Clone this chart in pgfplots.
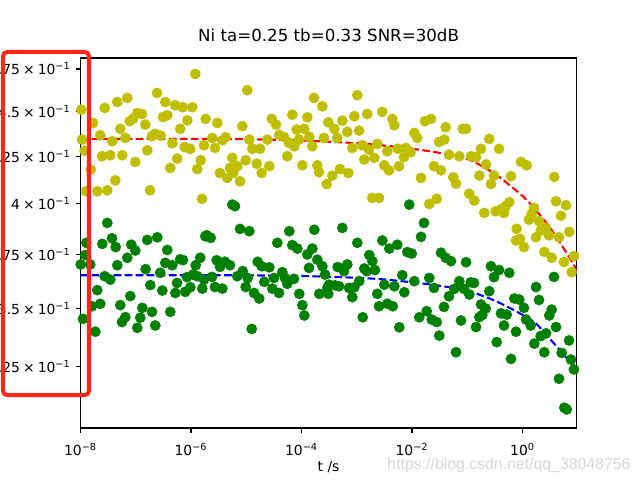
\documentclass[border=0pt]{standalone}
\usepackage{fontspec}
\setmainfont{DejaVu Sans}
\newfontfamily\wmfont{Liberation Sans}
\usepackage{pgfplots}
\pgfplotsset{compat=1.18}
\usepackage{pgfplotstable}
\definecolor{mplY}{rgb}{0.75,0.75,0}
\definecolor{mplG}{rgb}{0,0.5,0}
\definecolor{markup}{RGB}{255,38,28}
\newcommand{\sci}[2]{#1\hspace{0.22em}×\hspace{0.22em}10\textsuperscript{−#2}}
\newcommand{\pten}[1]{10\textsuperscript{#1}}

% x column: log10(t / s), y column: signal
\pgfplotstableread{
lt v
-7.986 0.4510
-7.774 0.4434
-7.562 0.4520
-7.334 0.4554
-7.153 0.4578
-6.615 0.4607
-6.465 0.4554
-6.284 0.4535
-6.150 0.4524
-5.976 0.4524
-5.922 0.4720
-5.734 0.4457
-7.973 0.4341
-7.924 0.4280
-7.815 0.4178
-7.900 0.4064
-7.696 0.4064
-7.515 0.4069
-7.370 0.4121
-7.642 0.4365
-7.424 0.4332
-7.611 0.4250
-7.461 0.4255
-7.280 0.4401
-7.243 0.4255
-7.189 0.4350
-7.109 0.4444
-7.050 0.4458
-6.972 0.4491
-6.887 0.4485
-6.827 0.4425
-7.008 0.4219
-6.791 0.4282
-6.742 0.4069
-6.706 0.4360
-6.646 0.4373
-6.548 0.4363
-6.507 0.4468
-6.429 0.4478
-6.338 0.4321
-6.375 0.4187
-6.248 0.4237
-6.194 0.4401
-6.114 0.4300
-6.013 0.4290
-6.067 0.4449
-5.886 0.4181
-5.824 0.4228
-5.765 0.4310
-5.801 0.4025
-4.981 0.4623
-5.524 0.4434
-5.071 0.4416
-3.774 0.4578
-3.623 0.4529
-4.166 0.4481
-3.895 0.4466
-4.539 0.4457
-4.461 0.4425
-4.087 0.4397
-3.949 0.4401
-3.515 0.4438
-4.402 0.4367
-4.317 0.4355
-5.614 0.4350
-5.433 0.4337
-5.372 0.4354
-4.945 0.4341
-4.619 0.4341
-4.226 0.4323
-4.045 0.4341
-3.859 0.4356
-3.593 0.4350
-5.566 0.4295
-4.890 0.4291
-4.751 0.4291
-4.130 0.4304
-3.804 0.4304
-4.257 0.4250
-5.252 0.4241
-5.010 0.4228
-4.811 0.4210
-4.583 0.4196
-5.162 0.4196
-5.294 0.4187
-3.985 0.4201
-3.714 0.4201
-5.475 0.4160
-5.234 0.4160
-4.720 0.4160
-3.683 0.4164
-5.343 0.4134
-5.113 0.4116
-3.544 0.4102
-2.990 0.4594
-3.406 0.4401
-3.261 0.4447
-3.044 0.4472
-2.809 0.4485
-2.537 0.4497
-2.356 0.4457
-2.320 0.4421
-2.959 0.4391
-3.171 0.4384
-3.352 0.4350
-3.080 0.4295
-2.899 0.4310
-2.778 0.4286
-2.628 0.4317
-2.447 0.4277
-2.682 0.4241
-2.863 0.4232
-2.259 0.4291
-2.114 0.4295
-2.023 0.4273
-2.145 0.4245
-2.235 0.4196
-2.501 0.4201
-2.416 0.4174
-1.958 0.4378
-1.904 0.4350
-1.765 0.4444
-1.656 0.4457
-1.390 0.4410
-1.511 0.4328
-1.415 0.4341
-1.330 0.4258
-1.602 0.4196
-1.475 0.4174
-1.837 0.4134
-1.252 0.4137
-3.303 0.4181
-3.153 0.4160
-3.442 0.4146
-2.718 0.4030
-2.597 0.4030
-1.687 0.3999
-1.553 0.4025
-1.082 0.4401
-1.022 0.4401
-0.601 0.4345
-0.751 0.4290
-0.425 0.4290
-1.144 0.4250
-0.932 0.4250
-0.841 0.4245
-0.660 0.4205
-0.027 0.4219
0.076 0.4201
-1.203 0.4104
-0.782 0.4146
-0.516 0.4146
-0.208 0.4143
-0.570 0.4102
0.576 0.4139
-0.963 0.4051
-0.872 0.4016
-0.691 0.3954
-0.239 0.4008
-0.304 0.3988
-0.394 0.3971
-0.485 0.3962
-0.335 0.3954
0.607 0.4013
0.788 0.3993
0.208 0.3979
0.167 0.3950
0.118 0.3920
0.697 0.3940
0.299 0.3913
0.426 0.3879
0.330 0.3866
-0.105 0.3875
-0.117 0.3817
-0.045 0.3825
0.027 0.3785
0.245 0.3833
0.480 0.3843
0.661 0.3833
0.847 0.3859
0.395 0.3762
0.529 0.3734
0.751 0.3714
0.891 0.3666
0.932 0.3742
}\yellowdata

\pgfplotstableread{
lt v
-7.515 0.3904
-7.895 0.3806
-7.913 0.3747
-7.996 0.3702
-7.823 0.3702
-7.605 0.3801
-7.430 0.3828
-7.363 0.3785
-7.081 0.3797
-7.008 0.3769
-7.153 0.3734
-7.334 0.3699
-6.791 0.3820
-6.610 0.3833
-6.429 0.3771
-6.465 0.3710
-6.338 0.3699
-6.194 0.3727
-6.145 0.3723
-6.820 0.3680
-6.556 0.3663
-5.832 0.3734
-5.915 0.3699
-5.964 0.3655
-6.072 0.3643
-5.886 0.3647
-5.741 0.3838
-7.562 0.3647
-7.461 0.3631
-7.696 0.3583
-7.792 0.3510
-7.642 0.3521
-7.955 0.3454
-7.732 0.3398
-7.280 0.3515
-7.099 0.3556
-7.189 0.3462
-7.249 0.3440
-6.881 0.3503
-6.918 0.3459
-6.972 0.3415
-6.706 0.3485
-6.646 0.3425
-6.737 0.3606
-6.519 0.3581
-6.375 0.3485
-6.253 0.3616
-6.284 0.3570
-6.103 0.3575
-6.013 0.3596
-5.795 0.3590
-5.252 0.3996
-5.204 0.3988
-5.113 0.3874
-4.945 0.3863
-5.716 0.3843
-5.643 0.3830
-4.221 0.3863
-3.768 0.3870
-4.438 0.3806
-4.166 0.3795
-4.076 0.3778
-3.804 0.3778
-3.895 0.3750
-5.535 0.3722
-5.385 0.3715
-5.294 0.3699
-5.475 0.3691
-4.793 0.3715
-4.720 0.3694
-4.583 0.3689
-3.714 0.3725
-3.623 0.3694
-3.864 0.3686
-5.064 0.3671
-5.162 0.3647
-4.974 0.3639
-5.620 0.3644
-4.347 0.3666
-4.299 0.3639
-4.136 0.3635
-4.498 0.3639
-4.673 0.3621
-3.575 0.3655
-5.765 0.3631
-5.566 0.3597
-5.433 0.3590
-5.010 0.3597
-4.528 0.3590
-4.407 0.3570
-4.257 0.3612
-4.040 0.3566
-3.678 0.3566
-3.515 0.3566
-4.860 0.3570
-4.764 0.3545
-3.985 0.3515
-3.949 0.3469
-4.901 0.3410
-3.533 0.3593
-2.049 0.3996
-3.261 0.3879
-1.783 0.3904
-1.837 0.3835
-2.990 0.3806
-2.537 0.3817
-2.411 0.3778
-2.266 0.3797
-2.085 0.3761
-2.005 0.3754
-1.475 0.3758
-1.390 0.3734
-1.294 0.3718
-2.773 0.3747
-2.718 0.3718
-3.171 0.3702
-3.345 0.3690
-3.231 0.3671
-2.863 0.3683
-2.670 0.3676
-2.820 0.3671
-3.394 0.3605
-3.502 0.3608
-3.321 0.3601
-3.140 0.3593
-3.044 0.3596
-2.954 0.3624
-3.080 0.3551
-2.176 0.3652
-1.958 0.3624
-1.687 0.3639
-1.602 0.3593
-2.501 0.3608
-2.320 0.3601
-2.628 0.3566
-2.139 0.3573
-2.597 0.3510
-2.447 0.3521
-2.349 0.3510
-2.892 0.3461
-2.230 0.3417
-1.868 0.3461
-1.734 0.3488
-1.643 0.3451
-1.553 0.3440
-1.421 0.3507
-1.506 0.3381
-1.330 0.3555
-1.234 0.3589
-1.203 0.3310
-1.022 0.3713
-0.570 0.3694
-0.425 0.3676
-0.516 0.3643
-0.239 0.3663
0.570 0.3644
0.245 0.3597
-1.144 0.3624
-0.937 0.3619
-0.878 0.3616
-1.059 0.3589
-0.963 0.3563
-0.601 0.3578
-0.148 0.3545
-0.058 0.3540
0.027 0.3503
-0.751 0.3518
-0.666 0.3500
-0.727 0.3471
-0.782 0.3462
-0.389 0.3478
-0.286 0.3473
0.299 0.3538
0.529 0.3495
0.485 0.3469
0.064 0.3451
0.149 0.3425
0.607 0.3418
-1.113 0.3447
-0.841 0.3418
-0.335 0.3425
-0.117 0.3398
0.330 0.3379
0.426 0.3391
0.214 0.3347
-0.467 0.3353
0.842 0.3360
0.395 0.3310
0.710 0.3307
0.878 0.3279
0.932 0.3238
-0.208 0.3282
0.661 0.3200
0.757 0.3084
0.800 0.3077
}\greendata

\pgfplotstableread{
lt v
-8 0.4345
-6 0.4345
-5 0.4343
-4 0.4336
-3 0.4321
-2.5 0.4308
-2 0.4291
-1.5 0.4268
-1 0.4235
-0.5 0.4155
0 0.4040
0.25 0.3965
0.5 0.3879
0.75 0.3777
0.981 0.3678
}\redfit

\pgfplotstableread{
lt v
-8 0.3652
-6 0.3652
-5 0.3651
-4 0.3648
-3 0.3640
-2.5 0.3632
-2 0.3619
-1.5 0.3603
-1 0.3580
-0.5 0.3535
0 0.3472
0.25 0.3432
0.5 0.3366
0.75 0.3300
0.981 0.3236
}\bluefit

\begin{document}
\begin{tikzpicture}
\useasboundingbox (-57.96pt,-37.44pt) rectangle (402.84pt,308.16pt);
\begin{axis}[
  at={(0,0)}, anchor=south west,
  scale only axis, width=357.26pt, height=266.4pt,
  xmin=-8, xmax=0.981,
  ymode=log, ymin=0.3005, ymax=0.4817,
  xtick={-8,-6,-4,-2,0},
  xticklabels={\pten{−8},\pten{−6},\pten{−4},\pten{−2},\pten{0}},
  ytick={0.325,0.35,0.375,0.4,0.425,0.45,0.475},
  yticklabels={\sci{3.25}{1},\sci{3.5}{1},\sci{3.75}{1},\sci{4}{1},\sci{4.25}{1},\sci{4.5}{1},\sci{4.75}{1}},
  xminorticks=false, yminorticks=false,
  tick pos=left, tick align=outside, major tick length=3.5pt,
  every tick/.style={black, line width=0.8pt},
  axis line style={line width=0.8pt},
  ticklabel style={font=\fontsize{10}{12}\selectfont, inner sep=0pt},
  xticklabel style={anchor=base, yshift=-16.4pt},
  yticklabel style={anchor=east, xshift=-3.5pt},
  title={Ni ta=0.25 tb=0.33 SNR=30dB},
  title style={font=\fontsize{12}{14}\selectfont, at={(0.5,1)}, anchor=base, yshift=6pt},
  xlabel={t /s},
  xlabel style={font=\fontsize{10}{12}\selectfont, at={(0.5,0)}, anchor=base, yshift=-31pt},
]
\addplot[only marks, mark=*, mark size=3.65pt, color=mplY] table[x=lt, y=v] {\yellowdata};
\addplot[only marks, mark=*, mark size=3.65pt, color=mplG] table[x=lt, y=v] {\greendata};
\addplot[red, line width=1.5pt, dash pattern=on 5.55pt off 2.4pt, smooth] table[x=lt, y=v] {\redfit};
\addplot[blue, line width=1.5pt, dash pattern=on 5.55pt off 2.4pt, smooth] table[x=lt, y=v] {\bluefit};
\end{axis}
\draw[markup, line width=2.88pt, rounded corners=3pt] (-55.8pt,23.76pt) rectangle (6.12pt,270.72pt);
\node[text=black!16, font=\wmfont\fontsize{11.4}{13}\selectfont, inner sep=0pt, anchor=base] at (308.5pt,-30pt) {https://blog.csdn.net/qq\_38048756};
\end{tikzpicture}
\end{document}
